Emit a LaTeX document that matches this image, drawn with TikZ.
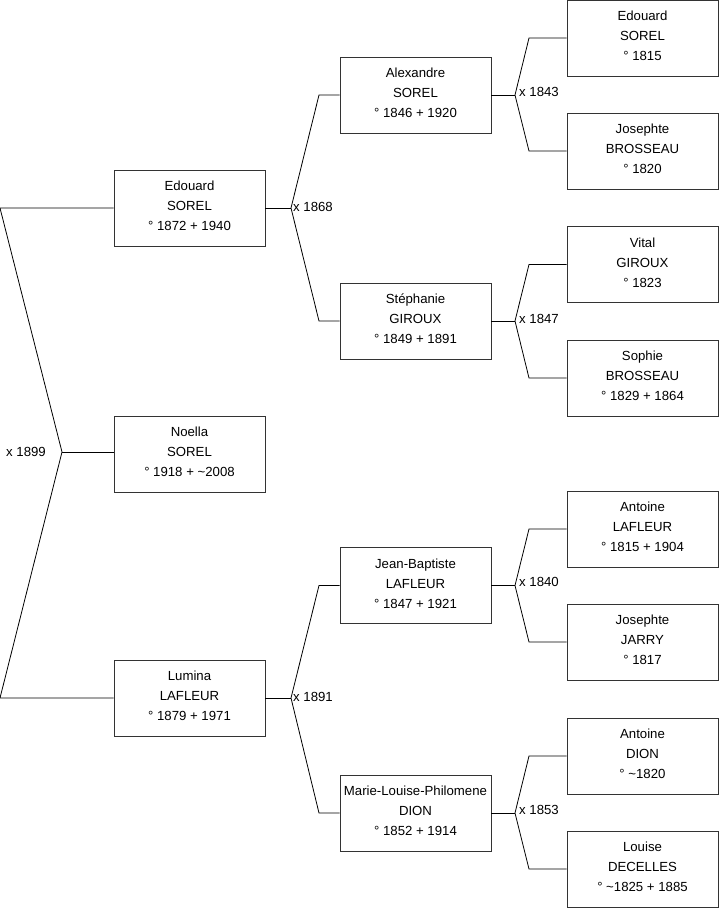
\documentclass[tikz,border=0pt]{standalone}
\usepackage{fontspec}
\setmainfont{Liberation Sans}
\newcommand{\personbox}[3]{%
  \node[person] (#1) at (#2) {};
  \node[ptext] (#1-t) at ([yshift=2pt]#1.center) {#3};}
\begin{document}
\begin{tikzpicture}[x=1pt,y=-1pt,
  person/.style={draw=black!80, line width=0.8pt, fill=white, minimum width=151pt, minimum height=76pt, inner sep=0pt},
  ptext/.style={inner sep=0pt, align=center, font=\fontsize{13.2pt}{20pt}\selectfont},
  link/.style={draw=black, line width=0.8pt},
  mlabel/.style={font=\fontsize{13.2pt}{15pt}\selectfont, inner sep=0pt}]
\useasboundingbox (0,0) rectangle (719,908);
% column 1
\personbox{e1}{189.5,208}{Edouard\\SOREL\\° 1872 + 1940}
\personbox{n1}{189.5,454}{Noella\\SOREL\\° 1918 + \textasciitilde2008}
\personbox{l1}{189.5,698}{Lumina\\LAFLEUR\\° 1879 + 1971}
% column 2
\personbox{a2}{415.5,95}{Alexandre\\SOREL\\° 1846 + 1920}
\personbox{s2}{415.5,321}{Stéphanie\\GIROUX\\° 1849 + 1891}
\personbox{j2}{415.5,585.5}{Jean-Baptiste\\LAFLEUR\\° 1847 + 1921}
\personbox{m2}{415.5,813}{Marie-Louise-Philomene\\DION\\° 1852 + 1914}
% column 3
\personbox{e3}{642.5,38}{Edouard\\SOREL\\° 1815}
\personbox{jo3}{642.5,151}{Josephte\\BROSSEAU\\° 1820}
\personbox{v3}{642.5,264.5}{Vital\\GIROUX\\° 1823}
\personbox{so3}{642.5,378}{Sophie\\BROSSEAU\\° 1829 + 1864}
\personbox{an3}{642.5,529}{Antoine\\LAFLEUR\\° 1815 + 1904}
\personbox{ja3}{642.5,642}{Josephte\\JARRY\\° 1817}
\personbox{ad3}{642.5,756}{Antoine\\DION\\° \textasciitilde1820}
\personbox{lo3}{642.5,869}{Louise\\DECELLES\\° \textasciitilde1825 + 1885}
% root fork
\coordinate (r) at (62,452);
\coordinate (rt) at (0,208);
\coordinate (rb) at (0,698);
\draw[link] (e1.west) -- (rt) -- (r) -- (rb) -- (l1.west);
\draw[link] (r) -- (r -| n1.west);
\node[mlabel, anchor=east] (lr) at (46,452) {x 1899};
% column 1 -> 2 forks
\coordinate (f1) at (291,208);
\coordinate (f1t) at (319,95);
\coordinate (f1b) at (319,321);
\draw[link] (e1.east) -- (f1);
\draw[link] (a2.west) -- (f1t) -- (f1) -- (f1b) -- (s2.west);
\node[mlabel, anchor=west] (lf1) at (293,207) {x 1868};
\coordinate (f2) at (291,698);
\coordinate (f2t) at (319,585.5);
\coordinate (f2b) at (319,813);
\draw[link] (l1.east) -- (f2);
\draw[link] (j2.west) -- (f2t) -- (f2) -- (f2b) -- (m2.west);
\node[mlabel, anchor=west] (lf2) at (293,697) {x 1891};
% column 2 -> 3 forks
\coordinate (g1) at (515,95);
\coordinate (g1t) at (529,38);
\coordinate (g1b) at (529,151);
\draw[link] (a2.east) -- (g1);
\draw[link] (e3.west) -- (g1t) -- (g1) -- (g1b) -- (jo3.west);
\node[mlabel, anchor=west] (lg1) at (519,92) {x 1843};
\coordinate (g2) at (515,321);
\coordinate (g2t) at (529,264.5);
\coordinate (g2b) at (529,378);
\draw[link] (s2.east) -- (g2);
\draw[link] (v3.west) -- (g2t) -- (g2) -- (g2b) -- (so3.west);
\node[mlabel, anchor=west] (lg2) at (519,319) {x 1847};
\coordinate (g3) at (515,585.5);
\coordinate (g3t) at (529,529);
\coordinate (g3b) at (529,642);
\draw[link] (j2.east) -- (g3);
\draw[link] (an3.west) -- (g3t) -- (g3) -- (g3b) -- (ja3.west);
\node[mlabel, anchor=west] (lg3) at (519,582) {x 1840};
\coordinate (g4) at (515,813);
\coordinate (g4t) at (529,756);
\coordinate (g4b) at (529,869);
\draw[link] (m2.east) -- (g4);
\draw[link] (ad3.west) -- (g4t) -- (g4) -- (g4b) -- (lo3.west);
\node[mlabel, anchor=west] (lg4) at (519,810) {x 1853};
\end{tikzpicture}
\end{document}
